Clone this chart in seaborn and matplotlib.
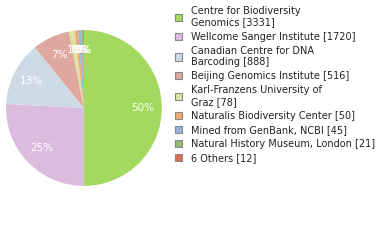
import matplotlib
matplotlib.use("Agg")
import matplotlib.pyplot as plt
import seaborn as sns
import numpy as np

sns.set_theme(style="white")
plt.rcParams['font.family'] = ['DejaVu Sans']

labels = ["Centre for Biodiversity\nGenomics", "Wellcome Sanger Institute",
          "Canadian Centre for DNA\nBarcoding", "Beijing Genomics Institute",
          "Karl-Franzens University of\nGraz", "Naturalis Biodiversity Center",
          "Mined from GenBank, NCBI", "Natural History Museum, London", "6 Others"]
values = [3331, 1720, 888, 516, 78, 50, 45, 21, 12]
colors = ["#a2d95e", "#dcbcde", "#cddae6", "#dea8a0", "#dde3a2", "#efac72",
          "#94b4d8", "#93bb6e", "#dd6f55"]

total = sum(values)
fig = plt.figure(figsize=(3.8, 2.4), dpi=100)
ax = fig.add_axes([0.0158, 0.225, 0.41, 0.65])

pct = [f"{int(v * 100 // total)}%" for v in values]
wedges, texts = ax.pie(values, colors=colors, startangle=90, counterclock=False,
                       wedgeprops=dict(linewidth=0))
for w, p in zip(wedges, pct):
    ang = np.deg2rad((w.theta1 + w.theta2) / 2)
    ax.text(0.75 * np.cos(ang), 0.75 * np.sin(ang), p, color="white",
            fontsize=7.5, ha="center", va="center")
ax.set_xlim(-1, 1)
ax.set_ylim(-1, 1)
ax.set_aspect("equal")

handles = [plt.Rectangle((0, 0), 1, 1, facecolor=c, edgecolor="#888888", linewidth=0.8)
           for c in colors]
leg_labels = [f"{l} [{v}]" for l, v in zip(labels, values)]
fig.legend(handles, leg_labels, loc="upper left", bbox_to_anchor=(0.445, 1.0),
           frameon=False, fontsize=7.0, handlelength=0.75, handleheight=0.75,
           handletextpad=0.9, labelspacing=0.42, borderaxespad=0.2,
           labelcolor="#222222")

fig.savefig("out.png", dpi=100)
